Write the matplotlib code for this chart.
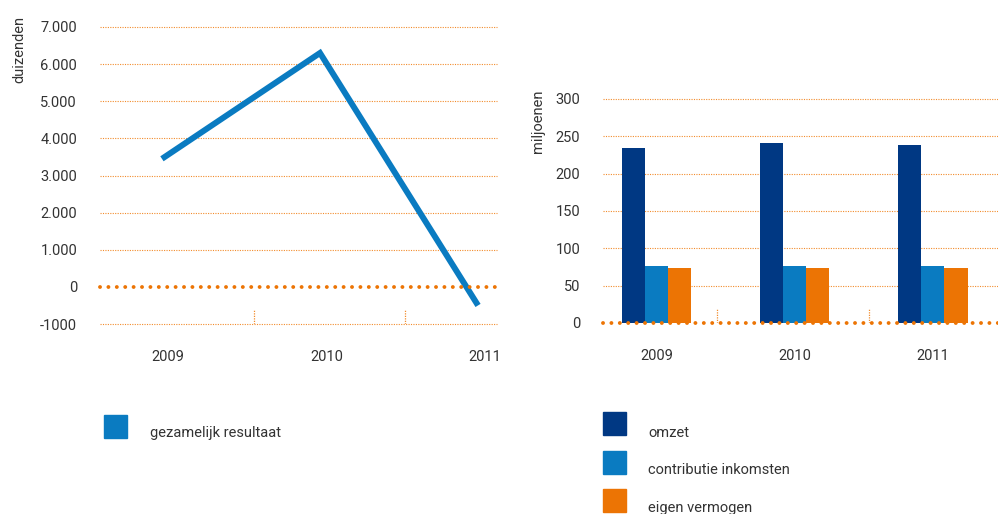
import numpy as np
import matplotlib.pyplot as plt
from matplotlib.patches import Rectangle

plt.rcParams['font.family'] = ['Roboto', 'DejaVu Sans']

# --- DATA ---
years = ['2009', '2010', '2011']
resultaat = [3450, 6300, -500]          # duizenden
omzet = [235, 241, 239]                 # miljoenen
contributie = [77, 77, 77]
eigen_vermogen = [73, 73, 73]

left_ticks = [-1000, 0, 1000, 2000, 3000, 4000, 5000, 6000, 7000]
left_labels = ['-1000', '0', '1.000', '2.000', '3.000', '4.000', '5.000', '6.000', '7.000']
right_ticks = [0, 50, 100, 150, 200, 250, 300]
right_labels = ['0', '50', '100', '150', '200', '250', '300']

# --- STYLE ---
BLUE = '#0a7bc1'
DARK = '#003883'
ORANGE = '#ec7404'
GRID = '#f28c2c'
TEXT = '#333333'
W, H = 998, 514


def fx(x):
    return x / W


def fy(y):
    return 1 - y / H


def style_axes(ax, ticks, labels):
    for s in ax.spines.values():
        s.set_visible(False)
    ax.set_yticks(ticks)
    ax.set_yticklabels(labels)
    ax.tick_params(axis='y', length=0, labelsize=10.5, labelcolor=TEXT, pad=16.5)
    ax.tick_params(axis='x', length=0, labelsize=10.5, labelcolor=TEXT, pad=19)
    for t in ticks:
        if t == 0:
            ax.axhline(0, color=ORANGE, lw=2.8, ls=(0, (0.01, 2.15)),
                       dash_capstyle='round', zorder=5, clip_on=False)
        else:
            ax.axhline(t, color=GRID, lw=0.8, ls=(0, (1, 1.2)), zorder=1, clip_on=False)


fig = plt.figure(figsize=(W / 100, H / 100), dpi=100)

# --- LEFT: gezamelijk resultaat ---
ax1 = fig.add_axes([fx(100), fy(324), (497 - 100) / W, (324 - 27) / H])
ax1.set_ylim(-1000, 7000)
ax1.set_xlim(-0.392, 2.12)
style_axes(ax1, left_ticks, left_labels)
x = np.arange(len(years))
ax1.plot(x, resultaat, color=BLUE, lw=4.3, solid_capstyle='butt',
         solid_joinstyle='miter', zorder=3)
ax1.vlines([0.582, 1.538], -1000, -600, color=GRID, lw=0.9, ls=(0, (1, 1)), zorder=1)
ax1.set_xticks(x + 0.04)
ax1.set_xticklabels(years)
fig.text(fx(19), fy(49), 'duizenden', rotation=90, ha='center', va='center',
         fontsize=10.5, color=TEXT)

# --- RIGHT: omzet / contributie / eigen vermogen ---
ax2 = fig.add_axes([fx(603), fy(323), (998 - 603) / W, (323 - 99) / H])
ax2.set_ylim(0, 300)
ax2.set_xlim(-0.391, 2.471)
style_axes(ax2, right_ticks, right_labels)
w = 0.1667
ax2.bar(x - w, omzet, w, color=DARK, zorder=2)
ax2.bar(x, contributie, w, color=BLUE, zorder=2)
ax2.bar(x + w, eigen_vermogen, w, color=ORANGE, zorder=2)
ax2.vlines([0.435, 1.536], 0, 20, color=GRID, lw=0.9, ls=(0, (1, 1)), zorder=1)
ax2.set_xticks(x)
ax2.set_xticklabels(years)
fig.text(fx(538), fy(121), 'miljoenen', rotation=90, ha='center', va='center',
         fontsize=10.5, color=TEXT)

# --- LEGENDS ---
legend_items = [
    (104, 415, 150, 437, BLUE, 'gezamelijk resultaat'),
    (603, 412, 648, 437, DARK, 'omzet'),
    (603, 451, 648, 474, BLUE, 'contributie inkomsten'),
    (603, 489, 648, 512, ORANGE, 'eigen vermogen'),
]
for sx, sy, tx, ty, col, label in legend_items:
    fig.patches.append(Rectangle((fx(sx), fy(sy + 23)), 23 / W, 23 / H,
                                 transform=fig.transFigure, color=col))
    fig.text(fx(tx), fy(ty), label, ha='left', va='baseline', fontsize=10.5, color=TEXT)

fig.savefig('out.png', dpi=100)
